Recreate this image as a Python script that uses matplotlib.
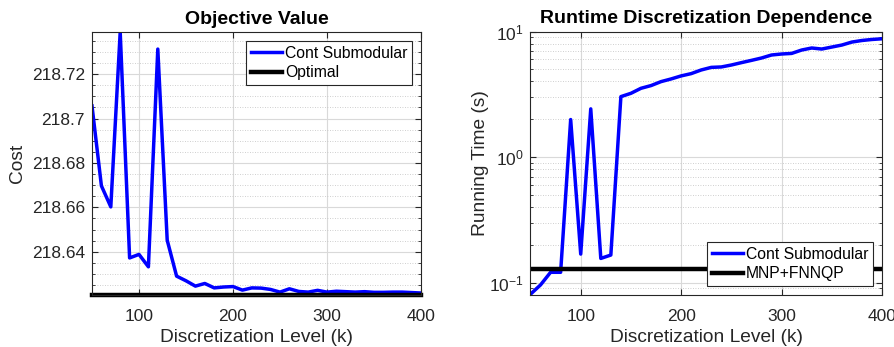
import numpy as np
import matplotlib
matplotlib.use("Agg")
import matplotlib.pyplot as plt
from matplotlib.ticker import MultipleLocator, FuncFormatter, LogLocator, NullFormatter

plt.rcParams['font.family'] = ['Liberation Sans', 'DejaVu Sans']
plt.rcParams['mathtext.fontset'] = 'custom'
plt.rcParams['mathtext.rm'] = 'Liberation Sans'

k = list(range(50, 401, 10))
cost_cont = [218.7057, 218.6697, 218.6602, 218.7390, 218.6372, 218.6388, 218.6332, 218.7313,
             218.6452, 218.6290, 218.6269, 218.6245, 218.6257, 218.6237, 218.6241, 218.6243,
             218.6227, 218.6237, 218.6236, 218.6230, 218.6218, 218.6233, 218.6221, 218.6218,
             218.6226, 218.6218, 218.6222, 218.6220, 218.6218, 218.6220, 218.6217, 218.6217,
             218.6218, 218.6218, 218.6216, 218.6214]
cost_opt = 218.6205

time_cont = [0.081, 0.096, 0.121, 0.121, 1.99, 0.169, 2.42, 0.156, 0.166, 3.03, 3.22, 3.53,
             3.71, 3.99, 4.19, 4.43, 4.62, 4.94, 5.18, 5.22, 5.41, 5.65, 5.89, 6.15, 6.50,
             6.62, 6.69, 7.12, 7.39, 7.25, 7.52, 7.80, 8.24, 8.48, 8.64, 8.75]
time_mnp = 0.128

W, H = 895, 347
fig = plt.figure(figsize=(W / 100, H / 100), dpi=100)

gray = (0.15, 0.15, 0.15)
fs_tick = 12.5
fs_label = 13.8
fs_title = 14
fs_leg = 11.3

def style(ax):
    for s in ax.spines.values():
        s.set_color(gray)
        s.set_linewidth(0.8)
    ax.tick_params(which='both', direction='in', top=True, right=True, colors=gray,
                   labelsize=fs_tick, labelcolor=gray)
    ax.tick_params(which='major', length=4)
    ax.tick_params(which='minor', length=2.5)
    ax.tick_params(axis='x', which='major', pad=10)
    ax.tick_params(axis='y', which='major', pad=5)
    ax.grid(True, which='major', color=(0.85, 0.85, 0.85), linewidth=0.8)
    ax.set_axisbelow(True)

def add_legend(ax, loc):
    leg = ax.legend(loc=loc, fontsize=fs_leg, fancybox=False, framealpha=1,
                    edgecolor=gray, handlelength=2.0, handletextpad=0.15,
                    borderaxespad=0.55, borderpad=0.32, labelspacing=0.28)
    leg.get_frame().set_linewidth(0.8)
    return leg

# Left axes
ax1 = fig.add_axes([92 / W, 1 - 295 / H, (421 - 92) / W, (295 - 32) / H])
ax1.plot(k, cost_cont, color=(0, 0, 1), linewidth=2.5, label='Cont Submodular')
ax1.plot([k[0], k[-1]], [cost_opt, cost_opt], color='black', linewidth=3.2,
         label='Optimal', clip_on=False)
ax1.set_xlim(50, 400)
ax1.set_ylim(cost_opt, max(cost_cont))
ax1.xaxis.set_major_locator(MultipleLocator(100))
ax1.yaxis.set_major_locator(MultipleLocator(0.02))
ax1.yaxis.set_minor_locator(MultipleLocator(0.005))
ax1.yaxis.set_major_formatter(FuncFormatter(lambda v, p: '%g' % round(v, 4)))
style(ax1)
ax1.grid(True, which='minor', axis='y', color=(0.75, 0.75, 0.75), linestyle=(0, (1, 2)),
         linewidth=0.6)
ax1.set_title('Objective Value', fontsize=fs_title, fontweight='bold', pad=6)
ax1.set_xlabel('Discretization Level (k)', fontsize=fs_label, color=gray, labelpad=4)
ax1.set_ylabel('Cost', fontsize=fs_label, color=gray, labelpad=4)
add_legend(ax1, 'upper right')

# Right axes
ax2 = fig.add_axes([530.5 / W, 1 - 295 / H, (882 - 530.5) / W, (295 - 31.5) / H])
ax2.plot(k, time_cont, color=(0, 0, 1), linewidth=2.5, label='Cont Submodular')
ax2.plot([k[0], k[-1]], [time_mnp, time_mnp], color='black', linewidth=3.2,
         label='MNP+FNNQP')
ax2.set_yscale('log')
ax2.set_xlim(50, 400)
ax2.set_ylim(min(time_cont) * 0.985, 10)
ax2.xaxis.set_major_locator(MultipleLocator(100))
ax2.yaxis.set_major_locator(LogLocator(base=10, numticks=10))
ax2.yaxis.set_minor_locator(LogLocator(base=10, subs=np.arange(2, 10), numticks=10))
ax2.yaxis.set_minor_formatter(NullFormatter())
style(ax2)
ax2.grid(True, which='minor', axis='y', color=(0.75, 0.75, 0.75), linestyle=(0, (1, 2)),
         linewidth=0.6)
ax2.set_title('Runtime Discretization Dependence', fontsize=fs_title, fontweight='bold', pad=6)
ax2.set_xlabel('Discretization Level (k)', fontsize=fs_label, color=gray, labelpad=4)
ax2.set_ylabel('Running Time (s)', fontsize=fs_label, color=gray, labelpad=0)
add_legend(ax2, 'lower right')

fig.savefig('out.png', dpi=100)
